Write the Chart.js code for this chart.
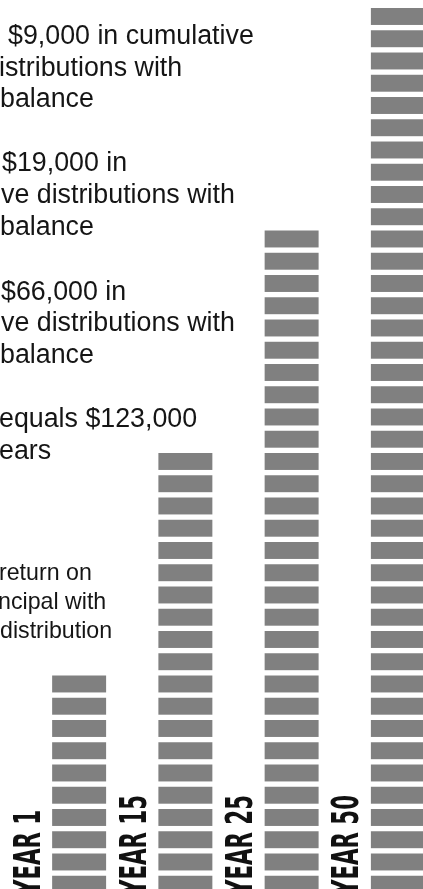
<!DOCTYPE html>
<html><head><meta charset="utf-8">
<script src="https://cdn.jsdelivr.net/npm/chart.js@4/dist/chart.umd.min.js"></script>
<style>
html,body{margin:0;padding:0;background:#fff;overflow:hidden;}
#wrap{position:relative;width:423px;height:889px;overflow:hidden;background:#fff;}
canvas{position:absolute;left:0;top:0;}
</style></head><body>
<div id="wrap"><canvas id="c" width="451" height="898"></canvas></div>
<script>
// ---- data ----
const categories = ['YEAR 1', 'YEAR 15', 'YEAR 25', 'YEAR 50'];
const blockCounts = [10, 20, 30, 40];
const noteLines = [
  '$9,000 in cumulative', 'istributions with', 'balance',
  '$19,000 in', 've distributions with', 'balance',
  '$66,000 in', 've distributions with', 'balance',
  'equals $123,000', 'ears',
  'return on', 'ncipal with', 'distribution'
];

// ---- layout / style (kept separate from data) ----
const noteLayout = [ // [x, baseline, fontSize]
  [8, 44, 26.8], [-1, 76, 26.8], [0, 107, 26.8],
  [2, 171, 26.8], [1, 203, 26.8], [0, 235, 26.8],
  [1, 300, 26.8], [1, 331, 26.8], [0, 363, 26.8],
  [-1, 427, 26.8], [-1, 459, 26.8],
  [-1, 580, 23.2], [-2, 609, 23.2], [0, 638, 23.2]
];
const BLOCK_GAP = 5.3;
const BAR_COLOR = '#808080';

const overlayPlugin = {
  id: 'overlay',
  beforeDraw(chart) {
    const ctx = chart.ctx;
    ctx.save();
    ctx.fillStyle = '#fff';
    ctx.fillRect(0, 0, chart.width, chart.height);
    ctx.restore();
  },
  afterDatasetsDraw(chart) {
    const ctx = chart.ctx;
    const ys = chart.scales.y, xs = chart.scales.x;
    const meta = chart.getDatasetMeta(0);
    const data = chart.data.datasets[0].data;
    ctx.save();
    // white gaps between blocks, at each unit boundary
    ctx.fillStyle = '#fff';
    meta.data.forEach((bar, i) => {
      const left = bar.x - bar.width / 2;
      for (let k = 1; k < data[i]; k++) {
        const py = ys.getPixelForValue(k);
        ctx.fillRect(left - 1, py - BLOCK_GAP, bar.width + 2, BLOCK_GAP);
      }
    });
    // rotated category labels, placed halfway to the previous category
    ctx.fillStyle = '#111';
    ctx.font = 'bold 38px "Liberation Sans Narrow", "DejaVu Sans Condensed", "Liberation Sans", sans-serif';
    ctx.textAlign = 'left';
    ctx.textBaseline = 'alphabetic';
    const sx = 100 / ctx.measureText('YEAR 15').width;
    const half = (xs.getPixelForValue(1) - xs.getPixelForValue(0)) / 2;
    chart.data.labels.forEach((lab, i) => {
      const cx = xs.getPixelForValue(i) - half;
      ctx.save();
      ctx.translate(cx + 13.5, 895);
      ctx.rotate(-Math.PI / 2);
      ctx.scale(sx, 1);
      ctx.fillText(lab, 0, 0);
      ctx.restore();
    });
    ctx.restore();
  },
  afterDraw(chart) {
    const ctx = chart.ctx;
    ctx.save();
    ctx.fillStyle = '#151515';
    ctx.textAlign = 'left';
    ctx.textBaseline = 'alphabetic';
    noteLines.forEach((t, i) => {
      const [x, y, s] = noteLayout[i];
      ctx.font = s + 'px "Liberation Sans", Arial, Helvetica, sans-serif';
      ctx.fillText(t, x, y);
    });
    ctx.restore();
  }
};

new Chart(document.getElementById('c'), {
  type: 'bar',
  data: {
    labels: categories,
    datasets: [{
      data: blockCounts,
      backgroundColor: BAR_COLOR,
      borderWidth: 0,
      barPercentage: 0.508,
      categoryPercentage: 1
    }]
  },
  options: {
    responsive: false,
    animation: false,
    devicePixelRatio: 1,
    layout: { padding: { left: 26, right: 0, top: 0, bottom: 0 } },
    scales: {
      x: { display: false },
      y: { display: false, min: 0, max: 40.36 }
    },
    plugins: { legend: { display: false }, tooltip: { enabled: false } }
  },
  plugins: [overlayPlugin]
});
</script>
</body></html>
